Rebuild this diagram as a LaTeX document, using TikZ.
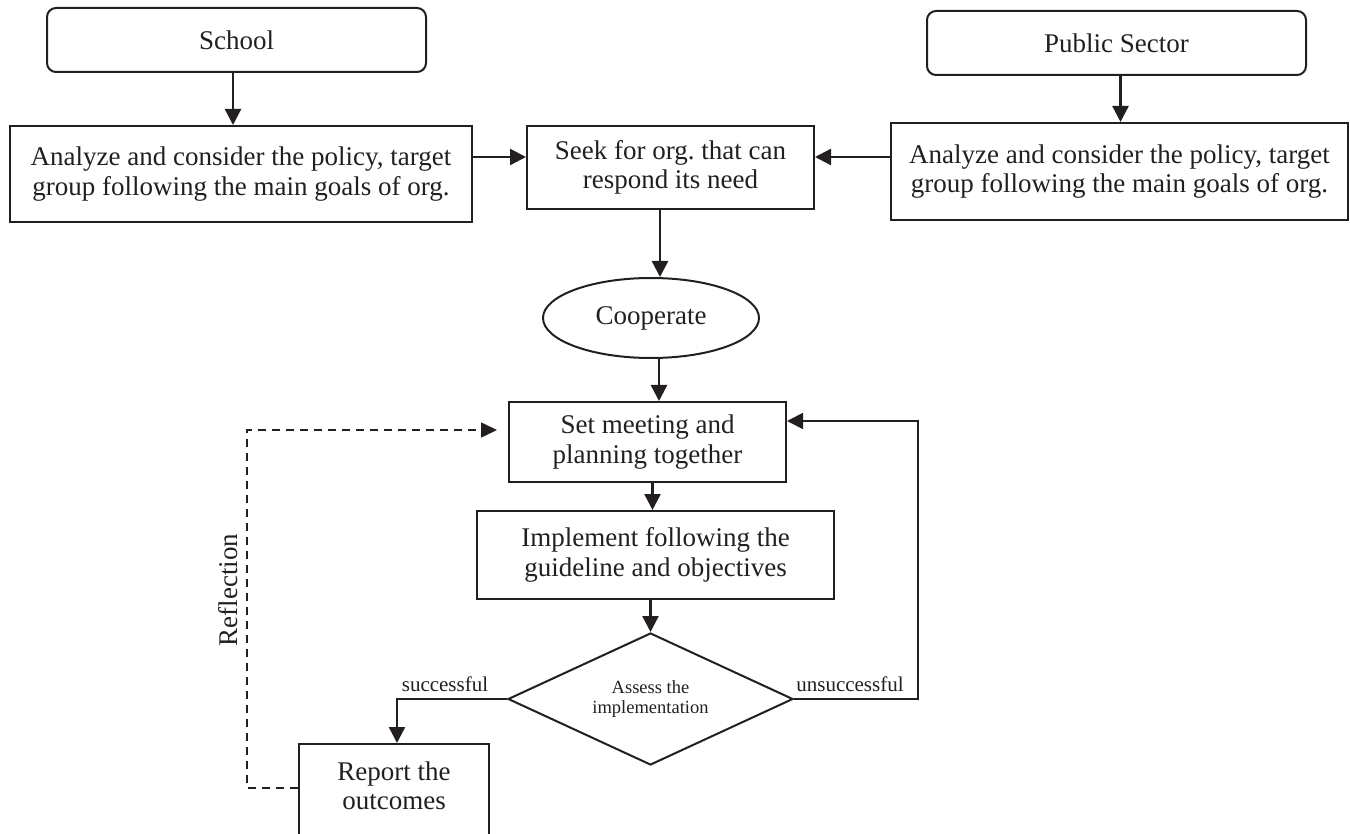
\documentclass[tikz,border=0pt]{standalone}
\usepackage{fontspec}
\setmainfont{Liberation Serif}
\usetikzlibrary{shapes.geometric,arrows.meta,calc}
\frenchspacing

\definecolor{ink}{HTML}{231F20}

\begin{document}
\begin{tikzpicture}[x=1pt,y=-1pt,
  txt/.style={text=ink, inner sep=0pt, align=center, font=\fontsize{27}{29.5}\selectfont},
  base/.style={txt, draw=ink, line width=2pt},
  rbox/.style={base, rectangle},
  roundbox/.style={base, rectangle, rounded corners=9pt},
  oval/.style={base, ellipse},
  decide/.style={base, diamond, aspect=2.16, font=\fontsize{18.5}{20.5}\selectfont},
  tag/.style={text=ink, inner sep=0pt, font=\fontsize{21}{24}\selectfont},
  arr/.style={draw=ink, line width=2.4pt, -{Triangle[length=16pt,width=16pt]}},
  back/.style={draw=ink, line width=1.6pt, dash pattern=on 8pt off 6pt, -{Triangle[length=16pt,width=15pt]}},
]
\useasboundingbox (0,0) rectangle (1350,834);
\clip (0,0) rectangle (1350,834);

% the two partners
\node[roundbox, minimum width=379pt, minimum height=64pt] (school) at (236.5,40) {School};
\node[roundbox, minimum width=379pt, minimum height=64pt] (pub) at (1116.5,43) {Public Sector};

% analysis on each side
\node[rbox, minimum width=462pt, minimum height=96pt] (lan) at (241,174)
  {Analyze and consider the policy, target\\group following the main goals of org.};
\node[rbox, minimum width=457pt, minimum height=97pt] (ran) at (1119.5,171.5)
  {Analyze and consider the policy, target\\group following the main goals of org.};

% central flow
\node[rbox, minimum width=287pt, minimum height=83pt] (seek) at (670.5,167.5)
  {Seek for org. that can\\respond its need};
\node[oval, minimum width=216pt, minimum height=80pt] (coop) at (651,318) {Cooperate};
\node[rbox, minimum width=277pt, minimum height=80pt] (set) at (647.5,442)
  {Set meeting and\\planning together};
\node[rbox, minimum width=357pt, minimum height=88pt] (impl) at (655.5,555)
  {Implement following the\\guideline and objectives};
\node[decide, minimum width=285pt, minimum height=132pt] (dia) at (650.5,699)
  {Assess the\\implementation};

% report box runs past the lower edge
\node[rbox, minimum width=190pt, minimum height=130pt] (rep) at (394,809) {};
\node[txt] (reptxt) at (394,786) {Report the\\outcomes};

% labels
\node[tag] (succ) at (445,684) {successful};
\node[tag] (unsucc) at (850,684) {unsuccessful};
\node[txt, rotate=90] (refl) at (228,590) {Reflection};

% connectors
\coordinate (tA) at ([xshift=-3.5pt]school.south);
\draw[arr] (tA) -- (tA |- lan.north);
\coordinate (tB) at ([xshift=4pt]pub.south);
\draw[arr] (tB) -- (tB |- ran.north);

\coordinate (sA) at ([yshift=10.5pt]seek.west);
\coordinate (sB) at ([yshift=10.5pt]seek.east);
\draw[arr] (lan.east |- sA) -- (sA);
\draw[arr] (ran.west |- sB) -- (sB);

\coordinate (cA) at ([xshift=-10.5pt]seek.south);
\draw[arr] (cA) -- (cA |- coop.north);
\coordinate (cB) at ([xshift=8pt]coop.south);
\draw[arr] (cB) -- (cB |- set.north);
\coordinate (cC) at ([xshift=5pt]set.south);
\draw[arr] (cC) -- (cC |- impl.north);
\draw[arr] (impl.south -| dia.north) -- (dia.north);

\coordinate (sC) at ([yshift=21pt]set.east);
\draw[arr, line width=1.7pt] (dia.east) -- ++(124,0) |- (sC);
\draw[arr] (dia.west) -| ([xshift=3pt]rep.north);

\coordinate (dA) at ([yshift=21pt]rep.west);
\coordinate (dB) at ([yshift=12pt]set.west);
\draw[back, shorten >=11pt] (dA) -- ++(-51,0) |- (dB);
\end{tikzpicture}
\end{document}
